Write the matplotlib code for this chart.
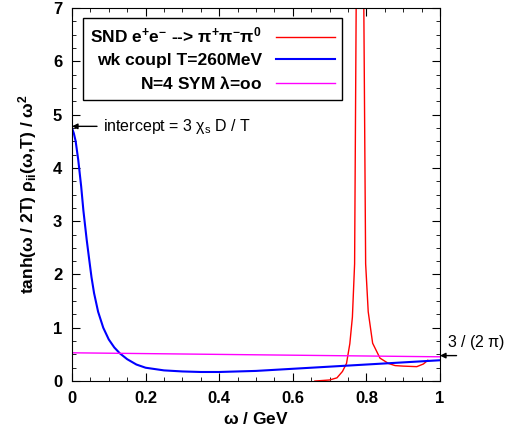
import matplotlib
matplotlib.use("Agg")
import matplotlib.pyplot as plt
import numpy as np
from matplotlib.ticker import MultipleLocator

plt.rcParams["font.family"] = ["Liberation Sans", "DejaVu Sans"]
plt.rcParams["mathtext.default"] = "regular"

# SND e+e- -> pi+ pi- pi0 data (omega peak)
snd_w = [0.66, 0.70, 0.72, 0.735, 0.746, 0.755, 0.762, 0.768, 0.774, 0.782,
         0.791, 0.798, 0.805, 0.817, 0.837, 0.86, 0.878, 0.90, 0.937, 0.955, 0.967]
snd_rho = [0.0, 0.02, 0.06, 0.18, 0.33, 0.7, 1.2, 2.2, 9.0, 30.0,
           9.0, 2.2, 1.3, 0.71, 0.43, 0.33, 0.29, 0.28, 0.27, 0.32, 0.39]

# weak coupling T=260 MeV
wk_w = [0.0, 0.005, 0.01, 0.017, 0.025, 0.031, 0.04, 0.047, 0.053, 0.06, 0.071,
        0.085, 0.1, 0.115, 0.13, 0.15, 0.175, 0.2, 0.25, 0.3, 0.35, 0.4,
        0.5, 0.6, 0.7, 0.8, 0.9, 1.0]
wk_rho = [4.75, 4.65, 4.5, 4.15, 3.65, 3.2, 2.65, 2.27, 1.95, 1.65, 1.3,
          1.0, 0.78, 0.63, 0.52, 0.41, 0.31, 0.25, 0.2, 0.18, 0.17, 0.17,
          0.19, 0.23, 0.27, 0.31, 0.35, 0.39]

# N=4 SYM, lambda = infinity
sym_w = [0.0, 0.2, 0.4, 0.6, 0.8, 1.0]
sym_rho = [0.53, 0.515, 0.50, 0.485, 0.47, 0.455]

intercept = 4.78
asymptote = 3 / (2 * np.pi)

fig = plt.figure(figsize=(5.08, 4.33), dpi=100)
ax = fig.add_axes([0.1417, 0.120, 0.7244, 0.8614])

ax.plot(snd_w, snd_rho, color="red", lw=1.0, label=r"SND e$^{+}$e$^{-}$ --> $\pi^{+}\pi^{-}\pi^{0}$")
ax.plot(wk_w, wk_rho, color="blue", lw=1.5, label="wk coupl T=260MeV")
ax.plot(sym_w, sym_rho, color="magenta", lw=1.0, label=r"N=4 SYM $\lambda$=oo")

ax.set_xlim(0, 1)
ax.set_ylim(0, 7)
ax.xaxis.set_major_locator(MultipleLocator(0.2))
ax.xaxis.set_minor_locator(MultipleLocator(0.05))
ax.yaxis.set_major_locator(MultipleLocator(1))
ax.yaxis.set_minor_locator(MultipleLocator(0.25))
ax.xaxis.set_major_formatter(plt.FuncFormatter(lambda v, p: "%g" % round(v, 2)))
ax.tick_params(which="both", direction="in", top=True, right=True)
ax.tick_params(which="major", length=6, labelsize=12, pad=7)
ax.tick_params(which="minor", length=3)
for lab in ax.get_xticklabels() + ax.get_yticklabels():
    lab.set_fontweight("bold")

ax.set_xlabel(r"$\omega$ / GeV", fontsize=12.5, fontweight="bold", labelpad=4)
ax.set_ylabel(r"tanh($\omega$ / 2T) $\rho_{ii}$($\omega$,T) / $\omega^{2}$",
              fontsize=12.5, fontweight="bold", labelpad=10)

ax.annotate("", xy=(0, intercept), xytext=(0.068, intercept),
            arrowprops=dict(arrowstyle="-|>", color="black", lw=1.0,
                            mutation_scale=8, shrinkA=0, shrinkB=0))
ax.text(0.084, intercept, r"intercept = 3 $\chi_s$ D / T", fontsize=11.5,
        va="center", ha="left")

ax.annotate("", xy=(1.0, asymptote), xytext=(1.045, asymptote),
            arrowprops=dict(arrowstyle="-|>", color="black", lw=1.0,
                            mutation_scale=8, shrinkA=0, shrinkB=0),
            annotation_clip=False)
ax.text(1.02, asymptote + 0.07, r"3 / (2 $\pi$)", fontsize=11.5,
        va="bottom", ha="left", clip_on=False)

leg = ax.legend(loc="upper left", bbox_to_anchor=(0.03, 0.972), borderaxespad=0,
                markerfirst=False, fancybox=False, edgecolor="black", framealpha=1,
                prop=dict(size=12.5, weight="bold"), handlelength=3.4,
                labelspacing=0.42, borderpad=0.42, handletextpad=0.8)
leg.get_frame().set_linewidth(1.0)

fig.savefig("out.png", dpi=100)
